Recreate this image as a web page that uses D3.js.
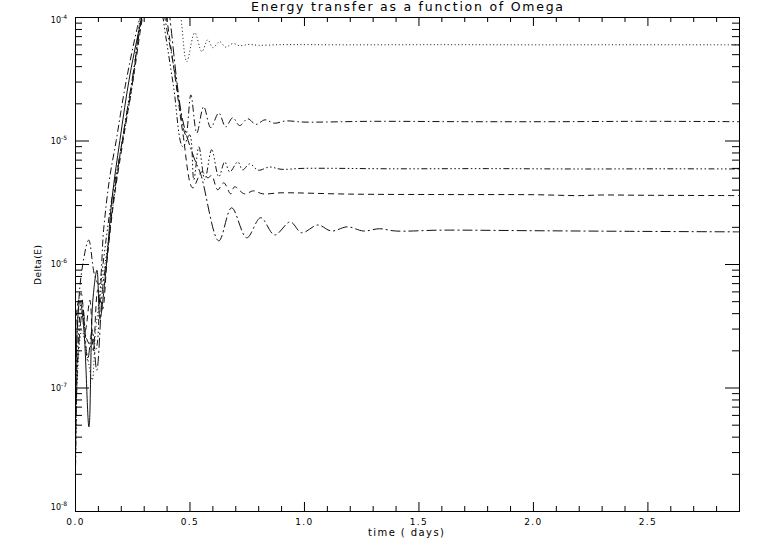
<!DOCTYPE html>
<html>
<head>
<meta charset="utf-8">
<script src="https://cdn.jsdelivr.net/npm/d3@7"></script>
<style>
  body { margin: 0; background: #fff; }
  text { font-family: "DejaVu Sans", sans-serif; fill: #000; }
</style>
</head>
<body>
<div id="chart"></div>
<script>
// Energy transfer as a function of Omega
// values (time in days, Delta(E))

// dotted curve (top, settles near 6e-5)
var timeDotted = [0, 0.01, 0.03, 0.05, 0.075, 0.09, 0.12, 0.14, 0.16, 0.2, 0.25, 0.29, 0.35, 0.42, 0.462, 0.488, 0.523, 0.554, 0.58, 0.602, 0.632, 0.658, 0.69, 0.72, 0.76, 0.8, 0.9, 1.2, 1.6, 2.0, 2.4, 2.9];
var deltaDotted = [3e-9, 1.15e-7, 2.9e-7, 2.0e-7, 1.15e-7, 2.9e-7, 7.4e-7, 1.3e-6, 2.5e-6, 8.4e-6, 3.1e-5, 1.0e-4, 3e-4, 3e-4, 1.0e-4, 4.35e-5, 7.46e-5, 5.24e-5, 6.55e-5, 5.64e-5, 6.31e-5, 5.7e-5, 6.1e-5, 5.85e-5, 6.0e-5, 5.9e-5, 5.97e-5, 5.95e-5, 5.97e-5, 5.95e-5, 5.96e-5, 5.95e-5];

// dash dot curve (settles near 1.4e-5)
var timeDashDot = [0, 0.01, 0.03, 0.06, 0.085, 0.105, 0.125, 0.15, 0.18, 0.22, 0.27, 0.29, 0.33, 0.37, 0.392, 0.43, 0.484, 0.506, 0.532, 0.562, 0.593, 0.628, 0.658, 0.689, 0.719, 0.754, 0.79, 0.83, 0.87, 0.92, 1.0, 1.3, 1.7, 2.1, 2.5, 2.9];
var deltaDashDot = [4e-9, 2.9e-7, 8.9e-7, 1.56e-6, 8.2e-7, 6.8e-7, 1.9e-6, 4.8e-6, 1.0e-5, 2.8e-5, 7.9e-5, 1.1e-4, 2.5e-4, 2.0e-4, 1.0e-4, 4.1e-5, 1.11e-5, 2.34e-5, 1.15e-5, 1.88e-5, 1.27e-5, 1.67e-5, 1.29e-5, 1.53e-5, 1.32e-5, 1.50e-5, 1.35e-5, 1.47e-5, 1.38e-5, 1.44e-5, 1.41e-5, 1.43e-5, 1.42e-5, 1.42e-5, 1.43e-5, 1.42e-5];

// dash dot dot dot curve (settles near 5.9e-6)
var timeDashDot3 = [0, 0.012, 0.03, 0.05, 0.087, 0.11, 0.13, 0.16, 0.2, 0.25, 0.285, 0.33, 0.37, 0.384, 0.43, 0.471, 0.501, 0.519, 0.541, 0.567, 0.597, 0.628, 0.654, 0.676, 0.711, 0.732, 0.763, 0.8, 0.85, 0.9, 1.0, 1.4, 1.8, 2.2, 2.6, 2.9];
var deltaDashDot3 = [5e-9, 2.0e-7, 5.1e-7, 2.5e-7, 2.0e-7, 6.2e-7, 1.3e-6, 3.3e-6, 8.4e-6, 2.8e-5, 1.0e-4, 3.0e-4, 1.6e-4, 1.0e-4, 2.77e-5, 8.9e-6, 1.11e-5, 4.81e-6, 8.9e-6, 4.81e-6, 8.41e-6, 5.08e-6, 6.71e-6, 5.57e-6, 6.71e-6, 5.78e-6, 6.47e-6, 5.75e-6, 6.1e-6, 5.85e-6, 5.95e-6, 5.9e-6, 5.92e-6, 5.88e-6, 5.9e-6, 5.88e-6];

// dashed curve (settles near 3.6e-6)
var timeDashed = [0, 0.01, 0.027, 0.045, 0.065, 0.08, 0.1, 0.12, 0.14, 0.17, 0.21, 0.26, 0.295, 0.34, 0.38, 0.40, 0.44, 0.471, 0.514, 0.554, 0.58, 0.597, 0.623, 0.65, 0.68, 0.697, 0.74, 0.78, 0.82, 0.9, 1.2, 1.6, 2.0, 2.2, 2.3, 2.5, 2.9];
var deltaDashed = [3e-9, 4.5e-7, 5.8e-7, 2.9e-7, 5.1e-7, 2.0e-7, 6.2e-7, 4.3e-7, 1.07e-6, 3.3e-6, 1.0e-5, 3.7e-5, 1.0e-4, 2.5e-4, 1.8e-4, 1.0e-4, 2.99e-5, 1.15e-5, 4.14e-6, 5.57e-6, 4.99e-6, 5.2e-6, 3.99e-6, 4.54e-6, 3.70e-6, 4.22e-6, 3.7e-6, 3.91e-6, 3.7e-6, 3.77e-6, 3.68e-6, 3.65e-6, 3.64e-6, 3.58e-6, 3.62e-6, 3.6e-6, 3.58e-6];

// long dash dot curve (lowest, settles near 1.8e-6)
var timeLongDash = [0, 0.012, 0.035, 0.055, 0.075, 0.095, 0.12, 0.14, 0.17, 0.21, 0.26, 0.292, 0.34, 0.40, 0.414, 0.47, 0.52, 0.55, 0.628, 0.684, 0.75, 0.811, 0.872, 0.94, 0.99, 1.06, 1.12, 1.19, 1.26, 1.33, 1.4, 1.6, 2.0, 2.4, 2.9];
var deltaLongDash = [4e-9, 1.66e-7, 4.3e-7, 1.66e-7, 2.9e-7, 1.38e-7, 6.2e-7, 1.17e-6, 3.6e-6, 1.1e-5, 4.1e-5, 1.0e-4, 2.5e-4, 1.6e-4, 1.0e-4, 1.47e-5, 7.24e-6, 5.27e-6, 1.54e-6, 2.85e-6, 1.63e-6, 2.37e-6, 1.72e-6, 2.19e-6, 1.79e-6, 2.07e-6, 1.85e-6, 2.0e-6, 1.85e-6, 1.93e-6, 1.85e-6, 1.88e-6, 1.86e-6, 1.84e-6, 1.82e-6];

// solid curve (leaves the top of the plot and stays above 1e-4)
var timeSolid = [0, 0.009, 0.022, 0.039, 0.061, 0.078, 0.096, 0.109, 0.135, 0.161, 0.196, 0.24, 0.292, 0.33, 0.5, 1.0, 2.0, 2.9];
var deltaSolid = [5e-9, 2.9e-7, 5.1e-7, 2.9e-7, 4.8e-8, 5.1e-7, 8.9e-7, 3.6e-7, 8.9e-7, 3.3e-6, 1.0e-5, 3.4e-5, 1.0e-4, 2.0e-4, 3.0e-4, 3.0e-4, 3.0e-4, 3.0e-4];

// tick values
var xMajorTicks = [0, 0.5, 1.0, 1.5, 2.0, 2.5];
var xMinorTicks = [0.1, 0.2, 0.3, 0.4, 0.6, 0.7, 0.8, 0.9, 1.1, 1.2, 1.3, 1.4, 1.6, 1.7, 1.8, 1.9, 2.1, 2.2, 2.3, 2.4, 2.6, 2.7, 2.8];
var yExponents = [-8, -7, -6, -5, -4];

// zip time/value arrays into point lists
var seriesList = [
  { time: timeSolid,     delta: deltaSolid,     dash: null },
  { time: timeDotted,    delta: deltaDotted,    dash: "1,2.5" },
  { time: timeDashed,    delta: deltaDashed,    dash: "6,4" },
  { time: timeDashDot,   delta: deltaDashDot,   dash: "7,3,1.5,3" },
  { time: timeDashDot3,  delta: deltaDashDot3,  dash: "6,2.5,1.5,2.5,1.5,2.5,1.5,2.5" },
  { time: timeLongDash,  delta: deltaLongDash,  dash: "10,3,2,3" }
];

// Chart set-up
var svgWidth = 763;
var svgHeight = 545;

var chartMargin = {
  top: 17,
  right: 24,
  bottom: 34,
  left: 75
};

var chartWidth = svgWidth - chartMargin.left - chartMargin.right;
var chartHeight = svgHeight - chartMargin.top - chartMargin.bottom;

var svg = d3.select("#chart")
  .append("svg")
  .attr("width", svgWidth)
  .attr("height", svgHeight);

var chartGroup = svg.append("g")
  .attr("transform", `translate(${chartMargin.left}, ${chartMargin.top})`);

// scales
var xLinearScale = d3.scaleLinear()
  .domain([0, 2.9])
  .range([0, chartWidth]);

var yLogScale = d3.scaleLog()
  .domain([1e-8, 1e-4])
  .range([chartHeight, 0]);

// minor log ticks 2..9 in every decade
var yMinorTicks = [];
yExponents.slice(0, -1).forEach(function(e) {
  for (var m = 2; m <= 9; m++) {
    yMinorTicks.push(m * Math.pow(10, e));
  }
});

// clip the curves to the plot box
chartGroup.append("clipPath")
  .attr("id", "plotClip")
  .append("rect")
  .attr("width", chartWidth)
  .attr("height", chartHeight);

var line = d3.line()
  .x(d => xLinearScale(d.t))
  .y(d => yLogScale(d.v))
  .curve(d3.curveCatmullRom.alpha(0.5));

var curveGroup = chartGroup.append("g")
  .attr("clip-path", "url(#plotClip)");

seriesList.forEach(function(s) {
  var pts = s.time.map(function(t, i) {
    return { t: t, v: s.delta[i] };
  });
  curveGroup.append("path")
    .datum(pts)
    .attr("d", line)
    .attr("fill", "none")
    .attr("stroke", "#111")
    .attr("stroke-width", 1)
    .attr("stroke-dasharray", s.dash);
});

// axes - ticks point into the plot, IDL style
function styleAxis(g) {
  g.selectAll("path").attr("stroke", "#000");
  g.selectAll("line").attr("stroke", "#000");
}

// bottom axis with labels
chartGroup.append("g")
  .attr("transform", `translate(0, ${chartHeight})`)
  .call(d3.axisBottom(xLinearScale)
    .tickValues(xMajorTicks)
    .tickSize(-9)
    .tickSizeOuter(0)
    .tickPadding(8)
    .tickFormat(d3.format(".1f")))
  .call(styleAxis)
  .call(g => g.selectAll("text")
    .attr("font-size", 9)
    .attr("letter-spacing", 1.4)
    .attr("font-family", "DejaVu Sans"));

chartGroup.append("g")
  .attr("transform", `translate(0, ${chartHeight})`)
  .call(d3.axisBottom(xLinearScale)
    .tickValues(xMinorTicks)
    .tickSize(-5)
    .tickSizeOuter(0)
    .tickFormat(""))
  .call(styleAxis);

// top axis
chartGroup.append("g")
  .call(d3.axisTop(xLinearScale)
    .tickValues(xMajorTicks)
    .tickSize(-9)
    .tickSizeOuter(0)
    .tickFormat(""))
  .call(styleAxis);

chartGroup.append("g")
  .call(d3.axisTop(xLinearScale)
    .tickValues(xMinorTicks)
    .tickSize(-5)
    .tickSizeOuter(0)
    .tickFormat(""))
  .call(styleAxis);

// left axis
chartGroup.append("g")
  .call(d3.axisLeft(yLogScale)
    .tickValues(yExponents.map(e => Math.pow(10, e)))
    .tickSize(-14)
    .tickSizeOuter(0)
    .tickFormat(""))
  .call(styleAxis);

chartGroup.append("g")
  .call(d3.axisLeft(yLogScale)
    .tickValues(yMinorTicks)
    .tickSize(-7)
    .tickSizeOuter(0)
    .tickFormat(""))
  .call(styleAxis);

// right axis
chartGroup.append("g")
  .attr("transform", `translate(${chartWidth}, 0)`)
  .call(d3.axisRight(yLogScale)
    .tickValues(yExponents.map(e => Math.pow(10, e)))
    .tickSize(-14)
    .tickSizeOuter(0)
    .tickFormat(""))
  .call(styleAxis);

chartGroup.append("g")
  .attr("transform", `translate(${chartWidth}, 0)`)
  .call(d3.axisRight(yLogScale)
    .tickValues(yMinorTicks)
    .tickSize(-7)
    .tickSizeOuter(0)
    .tickFormat(""))
  .call(styleAxis);

// y tick labels: 10 with superscript exponent
var yLabels = chartGroup.append("g")
  .selectAll("text")
  .data(yExponents)
  .enter()
  .append("text")
  .attr("text-anchor", "end")
  .attr("x", -8)
  .attr("y", function(e, i) {
    var base = yLogScale(Math.pow(10, e));
    if (i === 0) return base - 1;
    if (i === yExponents.length - 1) return base + 6;
    return base + 3;
  })
  .attr("font-size", 8);

yLabels.append("tspan").text("10");
yLabels.append("tspan")
  .attr("dy", -4)
  .attr("font-size", 6)
  .text(e => "-" + Math.abs(e));

// title and axis titles
svg.append("text")
  .attr("x", 407)
  .attr("y", 11)
  .attr("text-anchor", "middle")
  .attr("font-size", 12.5)
  .attr("textLength", 312)
  .attr("lengthAdjust", "spacing")
  .text("Energy transfer as a function of Omega");

svg.append("text")
  .attr("x", 406)
  .attr("y", 536)
  .attr("text-anchor", "middle")
  .attr("font-size", 10)
  .attr("textLength", 76)
  .attr("lengthAdjust", "spacing")
  .text("time ( days)");

svg.append("text")
  .attr("transform", "translate(41, 265) rotate(-90)")
  .attr("text-anchor", "middle")
  .attr("font-size", 9)
  .attr("textLength", 40)
  .attr("lengthAdjust", "spacing")
  .text("Delta(E)");
</script>
</body>
</html>
